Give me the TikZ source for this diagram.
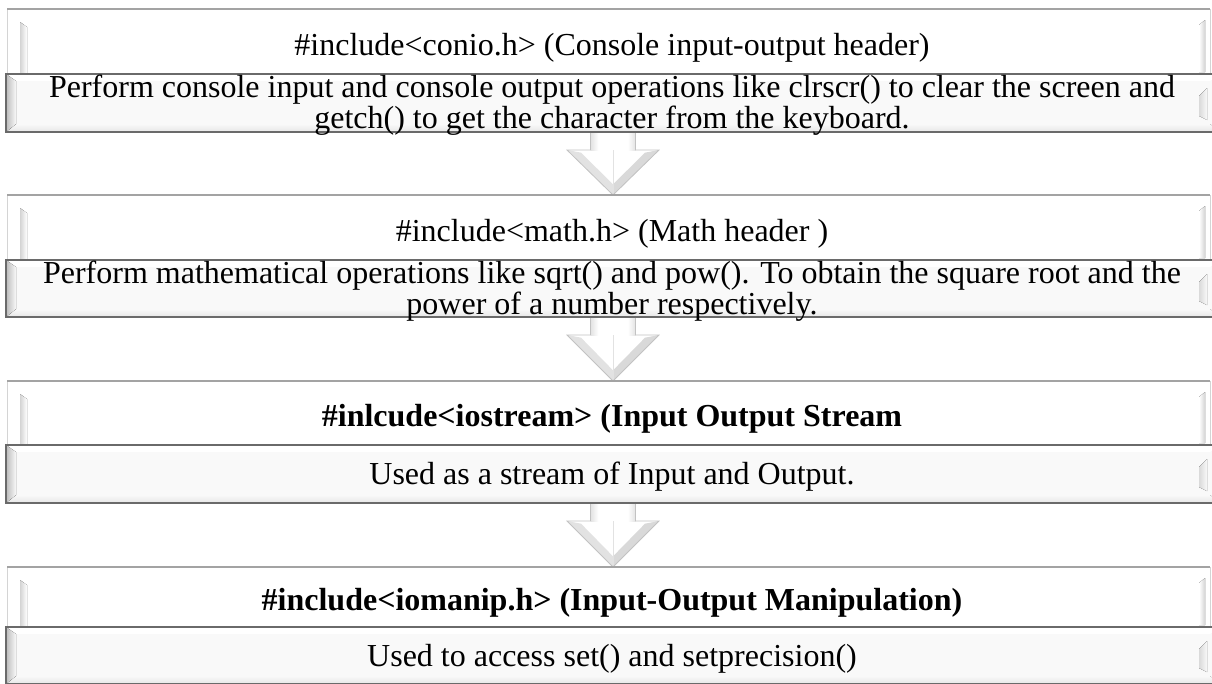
\documentclass[tikz,border=0pt]{standalone}
\usepackage{fontspec}
\setmainfont{Liberation Serif}
\usetikzlibrary{calc,backgrounds}

\definecolor{titlerule}{HTML}{A3A3A3}
\definecolor{titleside}{HTML}{D4D4D4}
\definecolor{descrule}{HTML}{6A6A6A}
\definecolor{descface}{HTML}{F9F9F9}
\definecolor{bevelshade}{HTML}{BBBBBB}
\definecolor{bevelbottom}{HTML}{E6E6E6}
\definecolor{arrowline}{HTML}{C2C2C2}
\definecolor{arrowshade}{HTML}{E2E2E2}

\tikzset{
  titlebox/.style={fill=white, draw=none, minimum width=1203*0.75pt, inner sep=0pt, outer sep=0pt},
  descbox/.style={fill=descface, draw=none, minimum width=1214*0.75pt, inner sep=0pt, outer sep=0pt},
  boxtext/.style={anchor=base, inner sep=0pt, align=center, font=\fontsize{24}{23.25}\selectfont},
  boldtext/.style={boxtext, font=\fontsize{24}{23.25}\selectfont\bfseries},
}

% soft bevel of a header panel
\newcommand\titledeco[1]{%
  \fill[left color=titleside, right color=white]
    ($(#1.north west)+(13,13)$) -- ($(#1.north west)+(20,18)$) --
    ($(#1.south west)+(20,0)$) -- ($(#1.south west)+(13,0)$) -- cycle;
  \fill[left color=white, right color=titleside]
    ($(#1.north east)+(-11,16)$) -- ($(#1.north east)+(-5,11)$) --
    ($(#1.south east)+(-5,-2)$) -- ($(#1.south east)+(-11,-2)$) -- cycle;
  \draw[titleside, line width=0.75pt] (#1.north west) -- (#1.south west);
  \draw[titleside, line width=0.75pt] (#1.north east) -- (#1.south east);
  \draw[titlerule, line width=1.5pt] (#1.north west) -- (#1.north east);
}

% framed bevel of a description panel
\newcommand\descdeco[1]{%
  \fill[white] (#1.north west) -- (#1.north east) --
    ($(#1.north east)+(-10,7)$) -- ($(#1.north west)+(10,7)$) -- cycle;
  \fill[top color=descface, bottom color=bevelbottom]
    ($(#1.south west)+(10,-8)$) -- ($(#1.south east)+(-10,-8)$) --
    (#1.south east) -- (#1.south west) -- cycle;
  \fill[left color=bevelshade, right color=descface]
    (#1.north west) -- ($(#1.north west)+(10,7)$) --
    ($(#1.south west)+(10,-8)$) -- (#1.south west) -- cycle;
  \fill[left color=bevelshade!55, right color=descface]
    ($(#1.north east)+(-13,14)$) -- ($(#1.north east)+(-21,22)$) --
    ($(#1.south east)+(-21,-16)$) -- ($(#1.south east)+(-13,-12)$) -- cycle;
  \draw[descrule, line width=1.5pt] (#1.north west) rectangle (#1.south east);
}

% white block arrow from one panel to the next
\newcommand\flowarrow[2]{%
  \path[fill=white] let \p1=(#1.south), \p2=(#2.north) in
    (\x1-16.875pt,\y1+3pt) -- (\x1-16.875pt,\y1-13.5pt) -- (\x1-34.5pt,\y1-13.5pt) --
    (\x1,\y2) -- (\x1+34.5pt,\y1-13.5pt) -- (\x1+16.875pt,\y1-13.5pt) --
    (\x1+16.875pt,\y1+3pt) -- cycle;
  \path[left color=arrowshade, right color=white] let \p1=(#1.south) in
    (\x1-16.875pt,\y1+3pt) rectangle (\x1-11pt,\y1-13.5pt);
  \path[left color=white, right color=arrowshade] let \p1=(#1.south) in
    (\x1+11pt,\y1+3pt) rectangle (\x1+16.875pt,\y1-13.5pt);
  \path[fill=arrowshade] let \p1=(#1.south), \p2=(#2.north) in
    (\x1-34.5pt,\y1-13.5pt) -- (\x1,\y2) -- (\x1,\y2+8pt) -- (\x1-24pt,\y1-15.5pt) -- cycle;
  \path[fill=arrowshade!130] let \p1=(#1.south), \p2=(#2.north) in
    (\x1+34.5pt,\y1-13.5pt) -- (\x1,\y2) -- (\x1,\y2+8pt) -- (\x1+24pt,\y1-15.5pt) -- cycle;
  \path[draw=arrowshade, line width=0.5pt] let \p1=(#1.south), \p2=(#2.north) in
    (\x1,\y1-13.5pt) -- (\x1,\y2);
  \path[draw=arrowline, line width=0.6pt, line join=miter] let \p1=(#1.south), \p2=(#2.north) in
    (\x1-16.875pt,\y1+3pt) -- (\x1-16.875pt,\y1-13.5pt) -- (\x1-34.5pt,\y1-13.5pt) --
    (\x1,\y2) -- (\x1+34.5pt,\y1-13.5pt) -- (\x1+16.875pt,\y1-13.5pt) --
    (\x1+16.875pt,\y1+3pt);
}

\begin{document}
\begin{tikzpicture}[x=0.75pt, y=-0.75pt]
  \useasboundingbox (0,0) rectangle (1212,683);

  % panels
  \node[titlebox, minimum height=65*0.75pt] (t1) at (608.5,41.5) {};
  \node[descbox,  minimum height=58*0.75pt] (d1) at (613,103) {};
  \node[titlebox, minimum height=65*0.75pt] (t2) at (608.5,227.5) {};
  \node[descbox,  minimum height=57*0.75pt] (d2) at (613,288.5) {};
  \node[titlebox, minimum height=64*0.75pt] (t3) at (608.5,413) {};
  \node[descbox,  minimum height=58*0.75pt] (d3) at (613,474) {};
  \node[titlebox, minimum height=60*0.75pt] (t4) at (608.5,597) {};
  \node[descbox,  minimum height=57*0.75pt] (d4) at (613,655.5) {};

  \titledeco{t1} \descdeco{d1}
  \titledeco{t2} \descdeco{d2}
  \titledeco{t3} \descdeco{d3}
  \titledeco{t4} \descdeco{d4}

  % texts (two-line texts sit on the baseline of their last line)
  \node[boxtext] (c1) at ($(t1.center)+(3.5,14)$)
    {\#include<conio.h> (Console input-output header)};
  \node[boxtext] (e1) at ($(d1.north)+(-1,54)$)
    {Perform console input and console output operations like clrscr() to clear the screen and\\
     getch() to get the character from the keyboard.};
  \node[boxtext] (c2) at ($(t2.center)+(3.5,14)$)
    {\#include<math.h> (Math header )};
  \node[boxtext] (e2) at ($(d2.north)+(-1,54)$)
    {Perform mathematical operations like sqrt() and pow(). To obtain the square root and the\\
     power of a number respectively.};
  \node[boldtext] (c3) at ($(t3.center)+(3.5,13)$)
    {\#inlcude<iostream> (Input Output Stream};
  \node[boxtext] (e3) at ($(d3.center)+(-1,10)$)
    {Used as a stream of Input and Output.};
  \node[boldtext] (c4) at ($(t4.center)+(3.5,13)$)
    {\#include<iomanip.h> (Input-Output Manipulation)};
  \node[boxtext] (e4) at ($(d4.center)+(-1,11)$)
    {Used to access set() and setprecision()};

  % connectors behind the panels
  \begin{pgfonlayer}{background}
    \fill[white] (0,0) rectangle (1212,683);
    \flowarrow{d1}{t2}
    \flowarrow{d2}{t3}
    \flowarrow{d3}{t4}
  \end{pgfonlayer}
\end{tikzpicture}
\end{document}
